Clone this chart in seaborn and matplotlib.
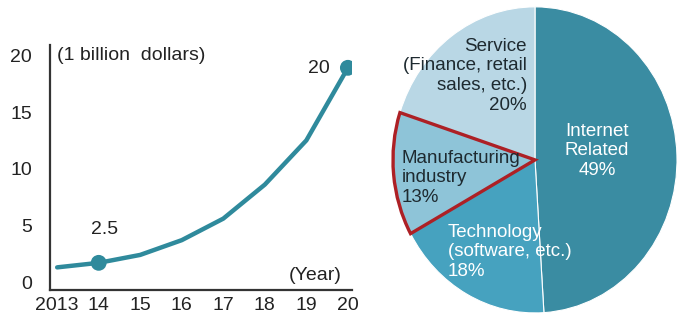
import matplotlib
matplotlib.use("Agg")
import matplotlib.pyplot as plt
import seaborn as sns
import pandas as pd

# ---- data ----
years = ["2013", "14", "15", "16", "17", "18", "19", "20"]
market_values = [1.3, 1.7, 2.4, 3.7, 5.6, 8.6, 12.5, 18.9]
highlight_years = ["14", "20"]
highlight_labels = ["2.5", "20"]
yticks = [0, 5, 10, 15, 20]

sectors = ["Internet\nRelated\n49%", "Technology\n(software, etc.)\n18%",
           "Manufacturing\nindustry\n13%", "Service\n(Finance, retail\nsales, etc.)\n20%"]
shares = [49, 18, 13, 20]
sector_colors = ["#3a8ca2", "#46a2bf", "#8ec4d8", "#b9d7e5"]

sns.set_theme(style="white")
plt.rcParams['font.family'] = ['Liberation Sans', 'DejaVu Sans']

fig = plt.figure(figsize=(6.77, 3.27), dpi=100)

# ---- line chart ----
ax = fig.add_axes([0.074, 0.113, 0.446, 0.749])
df = pd.DataFrame({"x": range(len(years)), "v": market_values, "year": years})
sns.lineplot(data=df, x="x", y="v", ax=ax, color="#2f8a9c", lw=3.2,
             solid_capstyle="round")
hl = df[df["year"].isin(highlight_years)]
sns.scatterplot(data=hl, x="x", y="v", ax=ax, color="#2f8a9c", s=130,
                edgecolor="none", zorder=5)
ax.set_xlim(-0.17, 7.1)
ax.set_ylim(-0.7, 20.9)
ax.set_xticks(range(len(years)))
ax.set_xticklabels(years)
ax.set_yticks(yticks)
ax.tick_params(axis="both", length=0, labelsize=14, colors="#222222")
ax.tick_params(axis="y", pad=13)
ax.tick_params(axis="x", pad=5)
ax.set_xlabel("")
ax.set_ylabel("")
for s in ["top", "right"]:
    ax.spines[s].set_visible(False)
for s in ["left", "bottom"]:
    ax.spines[s].set_color("#333333")
    ax.spines[s].set_linewidth(1.6)
ax.text(0.0, 20.0, "(1 billion  dollars)", fontsize=14, color="#222222",
        ha="left", va="center")
ax.text(6.85, 0.6, "(Year)", fontsize=14, color="#222222", ha="right", va="center")
ax.text(1.15, 4.6, highlight_labels[0], fontsize=14, color="#222222",
        ha="center", va="center")
ax.text(6.56, 18.85, highlight_labels[1], fontsize=14, color="#222222",
        ha="right", va="center")

# ---- pie chart ----
pax = fig.add_axes([0.5805, 0.043, 0.4195, 0.936])
wedges, _ = pax.pie(shares, colors=sector_colors, startangle=90,
                    counterclock=False, radius=1,
                    wedgeprops=dict(edgecolor="white", linewidth=0.8))
wedges[2].set_edgecolor("#ad2025")
wedges[2].set_linewidth(2.4)
wedges[2].set_zorder(3)
pax.set_aspect("auto")
pax.set_xlim(-1, 1)
pax.set_ylim(-1, 1)
pax.axis("off")

fs = 13.5
ls = 1.2
pax.text(0.437, 0.06, sectors[0], fontsize=fs, color="white", ha="center",
         va="center", linespacing=ls)
pax.text(-0.613, -0.60, sectors[1], fontsize=fs, color="white", ha="left",
         va="center", linespacing=ls)
pax.text(-0.937, -0.118, sectors[2], fontsize=fs, color="#1e2a30", ha="left",
         va="center", linespacing=ls, zorder=5)
pax.text(-0.056, 0.55, sectors[3], fontsize=fs, color="#1e2a30", ha="right",
         va="center", linespacing=ls)

fig.savefig("out.png", dpi=100)
